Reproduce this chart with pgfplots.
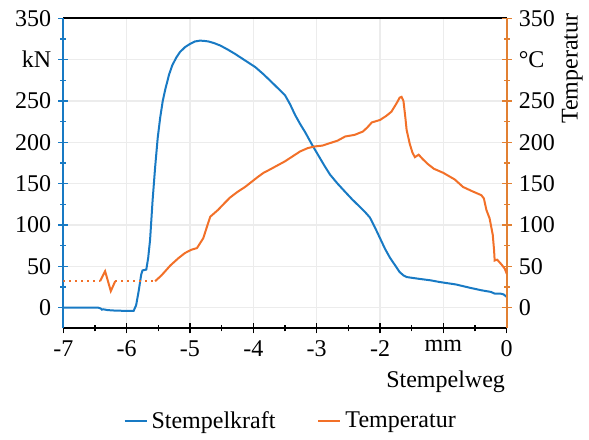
\documentclass[border=0pt]{standalone}
\usepackage{fontspec}
\setmainfont{Liberation Serif}
\usepackage{pgfplots}
\pgfplotsset{compat=1.18}
\definecolor{cblue}{RGB}{24,122,196}
\definecolor{corange}{RGB}{242,112,40}
\definecolor{caxor}{RGB}{226,128,50}
\begin{document}
\begin{tikzpicture}[font=\fontsize{12}{14}\selectfont]
\begin{axis}[name=main,
  scale only axis, width=221.7pt, height=155pt,
  xmin=-7, xmax=0, ymin=-25, ymax=350,
  axis x line*=box, axis y line*=left,
  xtick={-7,-6,-5,-4,-3,-2,-1,0},
  xticklabels={-7,-6,-5,-4,-3,-2,mm,0},
  ytick={0,50,100,150,200,250,300,350},
  yticklabels={0,50,100,150,200,250,kN,350},
  minor x tick num=1, minor y tick num=1,
  xtick pos=lower, ytick pos=left,
  tick align=center,
  major tick length=5pt, minor tick length=3pt,
  x tick style={black, line width=0.6pt},
  y tick style={cblue, line width=0.6pt},
  grid=major, major grid style={gray!15, line width=0.6pt},
  x axis line style={black, line width=0.9pt, -},
  y axis line style={cblue, line width=0.9pt, -},
  every axis plot/.append style={line width=1pt},
  clip mode=individual,
  legend style={at={(0.515,-0.3)}, anchor=center, draw=none, fill=none,
    legend columns=2, font=\fontsize{12}{14}\selectfont,
    /tikz/every even column/.append style={column sep=19pt}},
  legend image code/.code={\draw[#1] (0pt,0pt) -- (11pt,0pt);},
]
\addplot[cblue, no markers] coordinates {
(-7,0) (-6.45,0) (-6.41,-1) (-6.39,-2.5) (-6.37,-2) (-6.3,-3) (-6.2,-3.5) (-6.0,-4) (-5.89,-4)
(-5.85,3) (-5.81,20) (-5.77,40) (-5.75,45) (-5.69,46) (-5.66,60) (-5.63,82)
(-5.59,130) (-5.55,170) (-5.51,205) (-5.47,230) (-5.43,250) (-5.39,264) (-5.33,282)
(-5.28,293) (-5.22,302) (-5.16,309) (-5.08,315) (-5.00,319) (-4.92,322) (-4.84,323)
(-4.76,322.5) (-4.71,322) (-4.62,320) (-4.52,317) (-4.40,312) (-4.29,307) (-4.13,299)
(-3.97,291) (-3.85,283) (-3.74,275) (-3.62,266) (-3.50,257) (-3.42,246) (-3.34,233)
(-3.26,222) (-3.18,212) (-3.08,198) (-2.98,185) (-2.88,172) (-2.79,161) (-2.67,150)
(-2.55,140) (-2.44,131) (-2.32,122) (-2.24,116) (-2.16,109) (-2.08,97) (-2.0,84)
(-1.92,71) (-1.84,60) (-1.76,51) (-1.69,43) (-1.63,39) (-1.58,37) (-1.4,35) (-1.2,33)
(-1.06,31) (-0.8,28) (-0.58,24) (-0.4,21) (-0.25,19) (-0.19,17) (-0.1,17) (-0.05,16) (0,13)
};
\addlegendentry{Stempelkraft}
\addlegendimage{corange, line width=1pt}
\addlegendentry{Temperatur}
\end{axis}
\begin{axis}[
  scale only axis, width=221.7pt, height=155pt,
  xmin=-7, xmax=0, ymin=-25, ymax=350,
  axis x line=none, axis y line*=right,
  ytick={0,50,100,150,200,250,300,350},
  yticklabels={0,50,100,150,200,250,°C,350},
  minor y tick num=1,
  tick align=center,
  major tick length=5pt, minor tick length=3pt,
  y tick style={caxor, line width=0.6pt},
  y axis line style={caxor, line width=0.9pt, -},
  every axis plot/.append style={line width=1pt},
  clip mode=individual,
]
\addplot[corange, dotted, line width=1pt, no markers] coordinates {(-7,32) (-6.42,32)};
\addplot[corange, no markers] coordinates {(-6.42,32) (-6.34,44) (-6.25,20) (-6.18,32)};
\addplot[corange, dotted, line width=1pt, no markers] coordinates {(-6.18,32) (-5.55,32)};
\addplot[corange, no markers] coordinates {
(-5.55,32) (-5.45,39) (-5.31,51) (-5.18,60) (-5.08,66) (-4.98,70) (-4.89,72) (-4.84,78)
(-4.79,84) (-4.74,96) (-4.68,110) (-4.62,114) (-4.56,118) (-4.46,126) (-4.37,133)
(-4.25,140) (-4.13,146) (-4.03,152) (-3.93,158) (-3.84,163) (-3.74,167) (-3.62,172)
(-3.50,177) (-3.38,183) (-3.26,189) (-3.14,193) (-3.03,195) (-2.91,196) (-2.79,199)
(-2.67,202) (-2.55,207) (-2.40,209) (-2.27,213) (-2.2,218) (-2.13,224) (-2.00,227)
(-1.90,232) (-1.82,237) (-1.74,247) (-1.69,254) (-1.66,255) (-1.63,250) (-1.60,230)
(-1.58,215) (-1.53,198) (-1.49,188) (-1.45,182) (-1.39,185) (-1.33,180) (-1.25,174)
(-1.15,168) (-1.0,163) (-0.82,155) (-0.69,146) (-0.55,141) (-0.40,136) (-0.36,132)
(-0.32,118) (-0.27,108) (-0.22,88) (-0.2,70) (-0.19,57) (-0.15,58) (-0.08,52) (-0.03,47) (0,41)
};
\node[rotate=90, anchor=east, inner sep=0pt] at (rel axis cs:1.148,1.017) {Temperatur};
\node[anchor=north east, inner sep=0pt] at (rel axis cs:0.997,-0.137) {Stempelweg};
\end{axis}
\path[use as bounding box] (main.south west) ++(-31.65pt,-53.35pt) rectangle ++(294.5pt,217.5pt);
\end{tikzpicture}
\end{document}
